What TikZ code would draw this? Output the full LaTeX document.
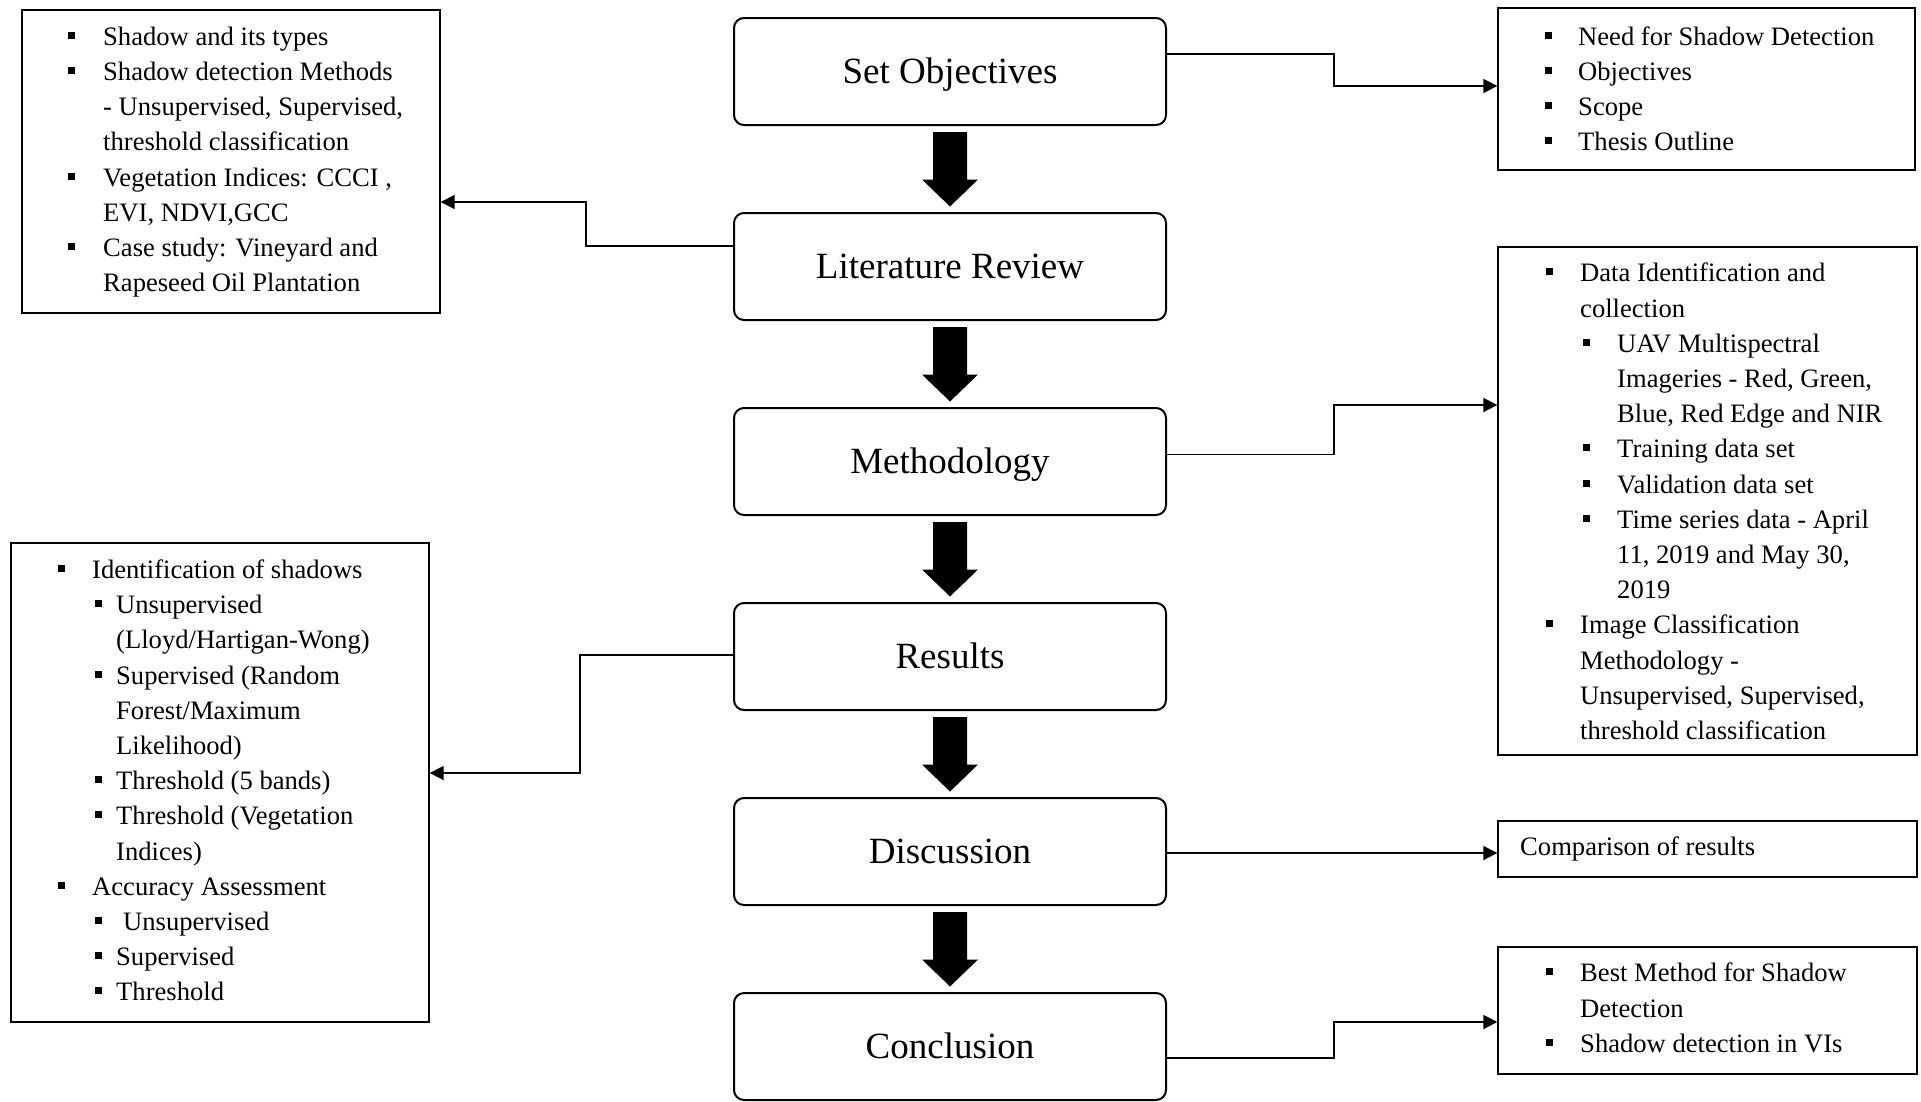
\documentclass[tikz,border=0pt]{standalone}
\usepackage{fontspec}
\setmainfont{Liberation Serif}
\usetikzlibrary{arrows.meta,calc,fit}

\newlength\bwA \newlength\bwB \newlength\bwI
\newcommand\sqb{\raisebox{6.5pt}{\rule{7pt}{7pt}}}
\newcommand\Ia[1]{\strut\makebox[\bwA][l]{\sqb}#1}
\newcommand\Ic[1]{\strut\hspace*{\bwA}#1}
\newcommand\IIa[1]{\strut\hspace*{\bwI}\makebox[\bwB][l]{\sqb}#1}
\newcommand\IIc[1]{\strut\hspace*{\bwI}\hspace*{\bwB}#1}

\newcommand\barrow[2]{%
  \coordinate (ba-s) at ([yshift=-6pt]#1.south);
  \coordinate (ba-e) at ([yshift=5.5pt]#2.north);
  \fill ($(ba-s)+(-17pt,0pt)$) -- ($(ba-e)+(-17pt,27pt)$) -- ($(ba-e)+(-28pt,27pt)$) -- (ba-e)
     -- ($(ba-e)+(28pt,27pt)$) -- ($(ba-e)+(17pt,27pt)$) -- ($(ba-s)+(17pt,0pt)$) -- cycle;}

\tikzset{
  mainbox/.style={draw, line width=2pt, rounded corners=10pt, minimum width=432pt,
    minimum height=107pt, text height=24.5pt, text depth=0pt, inner sep=0pt,
    font=\fontsize{37}{44}\selectfont},
  infobox/.style={draw, line width=1.4pt, inner sep=0pt},
  infotext/.style={anchor=north west, inner sep=0pt, align=left,
    font=\fontsize{26.6}{35.2}\selectfont},
  conn/.style={line width=1.8pt, -{Triangle[length=14pt,width=14pt]}}
}

\begin{document}
\begin{tikzpicture}[x=1pt,y=-1pt]
\useasboundingbox (0,0) rectangle (1921,1101);

% main flow
\node[mainbox] (so) at (950,71.5)  {Set Objectives};
\node[mainbox] (lr) at (950,266.5) {Literature Review};
\node[mainbox] (me) at (950,461.5) {Methodology};
\node[mainbox] (re) at (950,656.5) {Results};
\node[mainbox] (di) at (950,851.5) {Discussion};
\node[mainbox] (co) at (950,1046.5) {Conclusion};

\barrow{so}{lr}
\barrow{lr}{me}
\barrow{me}{re}
\barrow{re}{di}
\barrow{di}{co}

% info boxes
\node[infobox, fit={(22,10) (440,313)}] (lt) {};
\node[infobox, fit={(1498,8) (1915,170)}] (rt) {};
\node[infobox, fit={(1498,247) (1917,755)}] (rm) {};
\node[infobox, fit={(11,543) (429,1022)}] (lb) {};
\node[infobox, fit={(1498,821) (1917,877)}] (rcmp) {};
\node[infobox, fit={(1498,947) (1917,1074)}] (rc) {};

% texts
\setlength\bwA{35pt}
\node[infotext] (lt-t) at (68,20.4) {%
\Ia{Shadow and its types}\\
\Ia{Shadow detection Methods}\\
\Ic{- Unsupervised, Supervised,}\\
\Ic{threshold classification}\\
\Ia{Vegetation Indices: CCCI ,}\\
\Ic{EVI, NDVI,GCC}\\
\Ia{Case study: Vineyard and}\\
\Ic{Rapeseed Oil Plantation}};

\setlength\bwA{33pt}
\node[infotext] (rt-t) at (1545,20.4) {%
\Ia{Need for Shadow Detection}\\
\Ia{Objectives}\\
\Ia{Scope}\\
\Ia{Thesis Outline}};

\setlength\bwA{34pt}\setlength\bwI{37pt}\setlength\bwB{34pt}
\node[infotext] (rm-t) at (1546,257.1) {%
\Ia{Data Identification and}\\
\Ic{collection}\\
\IIa{UAV Multispectral}\\
\IIc{Imageries - Red, Green,}\\
\IIc{Blue, Red Edge and NIR}\\
\IIa{Training data set}\\
\IIa{Validation data set}\\
\IIa{Time series data - April}\\
\IIc{11, 2019 and May 30,}\\
\IIc{2019}\\
\Ia{Image Classification}\\
\Ic{Methodology -}\\
\Ic{Unsupervised, Supervised,}\\
\Ic{threshold classification}};

\setlength\bwA{34pt}\setlength\bwI{37pt}\setlength\bwB{21pt}
\node[infotext] (lb-t) at (58,553.7) {%
\Ia{Identification of shadows}\\
\IIa{Unsupervised}\\
\IIc{(Lloyd/Hartigan-Wong)}\\
\IIa{Supervised (Random}\\
\IIc{Forest/Maximum}\\
\IIc{Likelihood)}\\
\IIa{Threshold (5 bands)}\\
\IIa{Threshold (Vegetation}\\
\IIc{Indices)}\\
\Ia{Accuracy Assessment}\\
\IIa{\hspace{7pt}Unsupervised}\\
\IIa{Supervised}\\
\IIa{Threshold}};

\node[infotext] (rcmp-t) at (1520,830.4) {\strut Comparison of results};

\setlength\bwA{34pt}
\node[infotext] (rc-t) at (1546,957.1) {%
\Ia{Best Method for Shadow}\\
\Ic{Detection}\\
\Ia{Shadow detection in VIs}};

% connectors
\draw[conn] ([yshift=17.5pt]so.east) -- ++(167pt,0pt) |- ([yshift=3pt]rt.west);
\draw[conn] ([yshift=20.5pt]lr.west) -- ++(-147pt,0pt) |- ([yshift=-40.5pt]lt.east);
\draw[conn] ([yshift=7pt]me.east) -- ++(167pt,0pt) |- ([yshift=96pt]rm.west);
\draw[conn] ([yshift=1.5pt]re.west) -- ++(-153pt,0pt) |- ([yshift=9.5pt]lb.east);
\draw[conn] ([yshift=-1.5pt]di.east) -- ([yshift=-4pt]rcmp.west);
\draw[conn] ([yshift=-11.5pt]co.east) -- ++(167pt,0pt) |- ([yshift=-11.5pt]rc.west);
\end{tikzpicture}
\end{document}
